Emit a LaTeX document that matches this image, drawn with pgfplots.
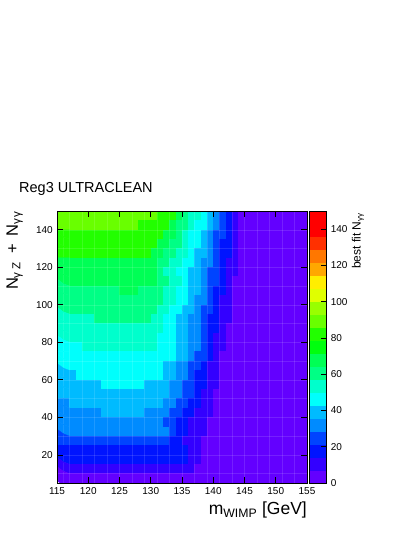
\documentclass[border=0pt]{standalone}
\usepackage{fontspec}
\setmainfont{Liberation Sans}
\usepackage{pgfplots}
\pgfplotsset{compat=1.18}
\pgfplotsset{
 colormap={rootpal}{
   rgb=(0.387,0,1) rgb=(0.2,0,1) rgb=(0,0.08,1) rgb=(0,0.267,1) rgb=(0,0.547,1)
   rgb=(0,0.733,1) rgb=(0,1,0.987) rgb=(0,1,0.8) rgb=(0,1,0.52) rgb=(0,1,0.333)
   rgb=(0,1,0.053) rgb=(0.133,1,0) rgb=(0.413,1,0) rgb=(0.6,1,0) rgb=(0.88,1,0)
   rgb=(1,0.933,0) rgb=(1,0.653,0) rgb=(1,0.467,0) rgb=(1,0.187,0) rgb=(1,0,0) rgb=(1,0,0)
 }
}
\begin{document}
\begin{tikzpicture}
\path[use as bounding box] (0,0) rectangle (415pt,537pt);
\node[anchor=base west, inner sep=0pt, font=\fontsize{14.5}{17}\selectfont] at (19pt,344.3pt) {Reg3 ULTRACLEAN};
\begin{axis}[
  at={(57pt,54pt)}, anchor=south west,
  scale only axis, width=250pt, height=272pt,
  xmin=115, xmax=155, ymin=5, ymax=150,
  xtick={115,120,...,155}, ytick={20,40,...,140},
  minor xtick={117,119,...,153}, minor ytick={10,20,...,140},
  xminorgrids, yminorgrids,
  minor grid style={white, opacity=0.12, line width=0.5pt},
  minor tick length=0pt,
  tick align=inside,
  major tick length=6pt,
  axis on top,
  axis line style={line width=0.7pt},
  tick style={line width=0.7pt, black},
  /pgf/number format/assume math mode=true,
  tick label style={font=\fontsize{10}{12}\selectfont, inner sep=0pt},
  xticklabel style={yshift=-4pt},
  yticklabel style={xshift=-4pt},
  xlabel={m\textsubscript{WIMP} [GeV]},
  ylabel={N\textsubscript{γ Z}\hspace{3pt} + \hspace{3pt}N\textsubscript{γ\kern1.5pt γ}},
  every axis x label/.style={at={(axis description cs:1,-0.1176)}, anchor=base east, inner sep=0pt, font=\fontsize{17.5}{20}\selectfont},
  every axis y label/.style={at={(axis description cs:-0.136,1)}, rotate=90, anchor=south east, inner sep=0pt, font=\fontsize{16.5}{19}\selectfont},
  colormap name=rootpal,
  colormap access=piecewise constant,
  point meta min=0, point meta max=150,
  colorbar right,
  colorbar style={
    at={(parent axis.north east)}, anchor=north west, xshift=-6.4pt,
    scale only axis, width=17.5pt, height=272pt,
    ytick={0,20,...,140},
    ytick pos=right, yticklabel pos=right,
    tick align=inside, major tick length=6pt,
    axis line style={line width=0.4pt},
    tick style={line width=0.7pt, black},
    /pgf/number format/assume math mode=true,
    yticklabel style={font=\fontsize{10}{12}\selectfont, inner sep=0pt, xshift=4pt},
    ylabel={best fit N\textsubscript{γγ}},
    every axis y label/.style={at={(axis description cs:2.43,0.993)}, rotate=90, anchor=north east, inner sep=0pt, font=\fontsize{12}{14}\selectfont},
  },
]
\addplot[matrix plot*, mesh/cols=40, point meta=explicit]
 table[row sep=\\, x expr={115.5+mod(\coordindex,40)}, y expr={147.5-5*floor(\coordindex/40)}, meta=v] {
v\\
86\\86\\86\\86\\86\\ 86\\86\\86\\86\\86\\ 86\\86\\86\\86\\86\\ 86\\ 79\\79\\79\\71\\64\\ 56\\56\\49\\41\\34\\ 26\\19\\11\\ 4\\4\\4\\4\\4\\ 4\\4\\4\\4\\4\\ 4\\
86\\86\\86\\86\\86\\ 86\\86\\86\\86\\86\\ 86\\86\\86\\ 79\\79\\79\\79\\79\\ 71\\64\\64\\56\\49\\ 49\\41\\34\\26\\19\\ 11\\ 4\\4\\4\\4\\4\\ 4\\4\\4\\4\\4\\ 4\\
79\\79\\79\\79\\79\\ 79\\79\\79\\79\\79\\ 79\\79\\79\\79\\79\\ 79\\79\\ 71\\71\\64\\56\\49\\ 49\\41\\34\\26\\26\\ 19\\11\\ 4\\4\\4\\4\\4\\ 4\\4\\4\\4\\4\\ 4\\
79\\79\\79\\79\\79\\ 79\\79\\79\\79\\79\\ 79\\79\\79\\79\\79\\ 79\\ 71\\71\\64\\64\\56\\ 49\\49\\41\\34\\26\\ 19\\19\\11\\ 4\\4\\4\\4\\4\\ 4\\4\\4\\4\\4\\ 4\\
79\\79\\79\\79\\79\\ 79\\79\\79\\79\\79\\ 79\\79\\79\\79\\79\\ 71\\71\\64\\64\\56\\ 56\\49\\41\\41\\34\\ 26\\19\\19\\11\\ 4\\4\\4\\4\\4\\ 4\\4\\4\\4\\4\\ 4\\
71\\71\\71\\71\\71\\ 71\\71\\71\\71\\71\\ 71\\71\\71\\71\\71\\ 71\\ 64\\64\\56\\56\\49\\ 49\\41\\34\\34\\26\\ 19\\11\\11\\ 4\\4\\4\\4\\4\\ 4\\4\\4\\4\\4\\ 4\\
71\\71\\71\\71\\71\\ 71\\71\\71\\71\\71\\ 71\\71\\71\\71\\71\\ 71\\ 64\\56\\56\\49\\49\\ 41\\41\\34\\26\\26\\ 19\\11\\11\\ 4\\4\\4\\4\\4\\ 4\\4\\4\\4\\4\\ 4\\
71\\71\\71\\71\\71\\ 71\\71\\71\\71\\71\\ 71\\71\\71\\71\\71\\ 71\\ 64\\64\\56\\56\\49\\ 41\\41\\34\\26\\26\\ 19\\11\\ 4\\4\\4\\4\\4\\ 4\\4\\4\\4\\4\\ 4\\4\\
64\\64\\64\\64\\64\\ 64\\64\\64\\64\\64\\ 71\\71\\71\\ 64\\64\\64\\64\\ 56\\56\\49\\49\\41\\ 41\\34\\26\\19\\19\\ 11\\ 4\\4\\4\\4\\4\\ 4\\4\\4\\4\\4\\ 4\\4\\
64\\64\\64\\64\\64\\ 64\\64\\64\\64\\64\\ 64\\64\\64\\64\\64\\ 64\\64\\ 56\\56\\49\\49\\41\\ 34\\34\\26\\19\\11\\ 11\\ 4\\4\\4\\4\\4\\ 4\\4\\4\\4\\4\\ 4\\4\\
64\\64\\64\\64\\64\\ 64\\64\\64\\64\\64\\ 64\\64\\64\\64\\64\\ 64\\ 56\\56\\49\\49\\41\\ 41\\34\\26\\26\\19\\ 11\\11\\ 4\\4\\4\\4\\4\\ 4\\4\\4\\4\\4\\ 4\\4\\
56\\56\\56\\56\\56\\ 56\\ 64\\64\\64\\64\\ 64\\64\\64\\64\\64\\ 56\\56\\49\\49\\41\\ 41\\34\\34\\26\\19\\ 19\\11\\11\\ 4\\4\\4\\4\\4\\ 4\\4\\4\\4\\4\\ 4\\4\\
56\\56\\56\\56\\56\\ 56\\56\\56\\56\\56\\ 56\\56\\56\\56\\56\\ 56\\56\\ 49\\49\\41\\41\\34\\ 34\\26\\19\\19\\11\\ 4\\4\\4\\4\\4\\ 4\\4\\4\\4\\4\\ 4\\4\\4\\
56\\56\\56\\56\\56\\ 56\\56\\56\\56\\56\\ 56\\56\\56\\56\\56\\ 56\\ 49\\49\\49\\41\\41\\ 34\\34\\26\\19\\11\\ 11\\ 4\\4\\4\\4\\4\\ 4\\4\\4\\4\\4\\ 4\\4\\4\\
49\\49\\49\\49\\ 56\\56\\56\\56\\56\\ 56\\56\\56\\56\\56\\ 56\\56\\ 49\\49\\49\\41\\41\\ 34\\34\\26\\19\\11\\ 11\\ 4\\4\\4\\4\\4\\ 4\\4\\4\\4\\4\\ 4\\4\\4\\
49\\49\\49\\49\\49\\ 49\\49\\49\\49\\49\\ 49\\49\\49\\49\\49\\ 49\\49\\49\\49\\ 41\\41\\34\\26\\26\\ 19\\11\\ 4\\4\\4\\4\\4\\ 4\\4\\4\\4\\4\\ 4\\4\\4\\4\\
49\\49\\49\\49\\49\\ 49\\49\\49\\49\\49\\ 49\\49\\49\\49\\49\\ 49\\49\\ 41\\41\\34\\34\\26\\ 26\\19\\11\\11\\ 4\\4\\4\\4\\4\\ 4\\4\\4\\4\\4\\ 4\\4\\4\\4\\
41\\41\\41\\ 49\\49\\49\\49\\49\\ 49\\49\\49\\49\\49\\ 49\\49\\49\\49\\ 41\\41\\34\\34\\26\\ 19\\19\\11\\11\\ 4\\4\\4\\4\\4\\ 4\\4\\4\\4\\4\\ 4\\4\\4\\4\\
41\\41\\41\\41\\41\\ 41\\41\\ 49\\49\\49\\49\\49\\ 49\\49\\ 41\\41\\41\\41\\ 34\\34\\26\\26\\19\\ 19\\11\\11\\ 4\\4\\4\\4\\4\\ 4\\4\\4\\4\\4\\ 4\\4\\4\\4\\
41\\41\\41\\41\\41\\ 41\\41\\41\\41\\41\\ 41\\41\\41\\41\\41\\ 41\\41\\41\\ 34\\34\\26\\26\\19\\ 11\\11\\ 4\\4\\4\\4\\4\\ 4\\4\\4\\4\\4\\ 4\\4\\4\\4\\4\\
34\\34\\ 41\\41\\41\\41\\41\\ 41\\41\\41\\41\\41\\ 41\\41\\41\\41\\41\\ 34\\34\\26\\26\\19\\ 19\\11\\11\\ 4\\4\\4\\4\\4\\ 4\\4\\4\\4\\4\\ 4\\4\\4\\4\\4\\
34\\34\\34\\34\\34\\ 34\\34\\ 41\\41\\41\\41\\41\\ 41\\41\\ 34\\34\\34\\34\\ 26\\26\\19\\19\\11\\ 11\\11\\ 4\\4\\4\\4\\4\\ 4\\4\\4\\4\\4\\ 4\\4\\4\\4\\4\\
34\\34\\34\\34\\34\\ 34\\34\\34\\34\\34\\ 34\\34\\34\\34\\34\\ 34\\34\\ 26\\26\\19\\19\\11\\ 11\\11\\ 4\\4\\4\\4\\4\\ 4\\4\\4\\4\\4\\ 4\\4\\4\\4\\4\\ 4\\
34\\34\\34\\34\\34\\ 34\\34\\34\\34\\34\\ 34\\34\\34\\34\\34\\ 34\\34\\34\\ 26\\19\\19\\11\\11\\ 11\\ 4\\4\\4\\4\\4\\ 4\\4\\4\\4\\4\\ 4\\4\\4\\4\\4\\ 4\\
26\\26\\26\\26\\26\\ 26\\26\\26\\26\\26\\ 26\\26\\26\\26\\26\\ 26\\26\\26\\ 19\\19\\11\\11\\11\\ 4\\4\\4\\4\\4\\ 4\\4\\4\\4\\4\\ 4\\4\\4\\4\\4\\ 4\\4\\
19\\19\\19\\19\\19\\ 19\\19\\19\\19\\19\\ 19\\19\\19\\19\\19\\ 19\\19\\19\\19\\19\\ 19\\ 11\\11\\ 4\\4\\4\\4\\4\\ 4\\4\\4\\4\\4\\ 4\\4\\4\\4\\4\\ 4\\4\\
19\\19\\19\\19\\19\\ 19\\19\\19\\19\\19\\ 19\\19\\19\\19\\19\\ 19\\19\\19\\19\\19\\ 19\\ 11\\11\\ 4\\4\\4\\4\\4\\ 4\\4\\4\\4\\4\\ 4\\4\\4\\4\\4\\ 4\\4\\
11\\11\\11\\11\\11\\ 11\\11\\11\\11\\11\\ 11\\11\\11\\11\\11\\ 11\\11\\11\\11\\11\\ 11\\11\\ 4\\4\\4\\4\\4\\ 4\\4\\4\\4\\4\\ 4\\4\\4\\4\\4\\ 4\\4\\4\\
4\\4\\4\\4\\4\\ 4\\4\\4\\4\\4\\ 4\\4\\4\\4\\4\\ 4\\4\\4\\4\\4\\ 4\\4\\4\\4\\4\\ 4\\4\\4\\4\\4\\ 4\\4\\4\\4\\4\\ 4\\4\\4\\4\\4\\
};
\end{axis}
\end{tikzpicture}
\end{document}
